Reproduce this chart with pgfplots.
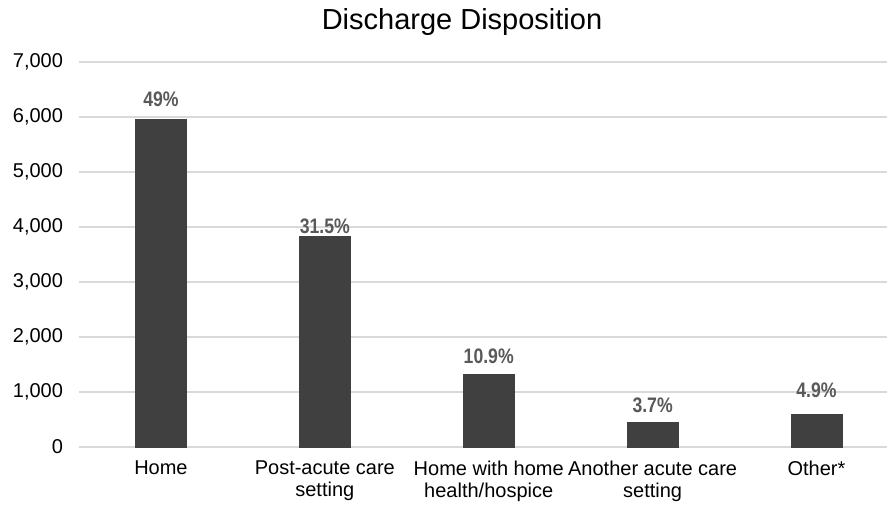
\documentclass[border=0pt]{standalone}
\usepackage{fontspec}
\setmainfont{Liberation Sans}
\newfontfamily\labfont[FakeStretch=0.84]{Liberation Sans}
\usepackage{pgfplots}
\pgfplotsset{compat=1.18}
\definecolor{barc}{HTML}{404040}
\definecolor{gridc}{HTML}{D9D9D9}
\definecolor{labc}{HTML}{595959}
\pgfplotstableread{
x y off lab
0 5963 13 49
1 3834 3 31.5
2 1327 11 10.9
3 452 10 3.7
4 598 17 4.9
}\discharge
\begin{document}
\begin{tikzpicture}
\path[use as bounding box] (-79pt,-61pt) rectangle (808pt,447pt);
\begin{axis}[
  scale only axis, width=808pt, height=385pt,
  at={(0pt,0pt)}, anchor=south west,
  xmin=-0.5, xmax=4.43, ymin=0, ymax=7000,
  ytick={0,1000,...,7000},
  ymajorgrids, grid style={gridc, line width=1.5pt},
  axis line style={draw=none},
  major tick length=0pt,
  tick style={draw=none},
  xtick={0,1,2,3,4},
  xticklabels={Home,{Post-acute care\\setting},{Home with home\\health/hospice},{Another acute care\\setting},Other*},
  xticklabel style={align=center, font=\fontsize{20}{22.5}\selectfont, yshift=-10pt},
  yticklabel style={font=\fontsize{20}{23}\selectfont, xshift=-12.5pt},
  /pgf/number format/assume math mode=true,
  /pgf/number format/1000 sep={,},
  scaled y ticks=false,
  ybar, bar width=51pt,
  point meta=explicit symbolic,
  nodes near coords={\pgfplotspointmeta\%},
  visualization depends on={\thisrow{off} \as \myoff},
  every node near coord/.append style={font=\labfont\bfseries\fontsize{21}{23}\selectfont, text=labc, anchor=base, inner sep=0pt, yshift=\myoff pt},
  clip=false,
]
\addplot[fill=barc, draw=barc] table[x=x, y=y, meta=lab] {\discharge};
\end{axis}
\node[font=\fontsize{29}{32}\selectfont] at (383pt,425pt) {Discharge Disposition};
\end{tikzpicture}
\end{document}
